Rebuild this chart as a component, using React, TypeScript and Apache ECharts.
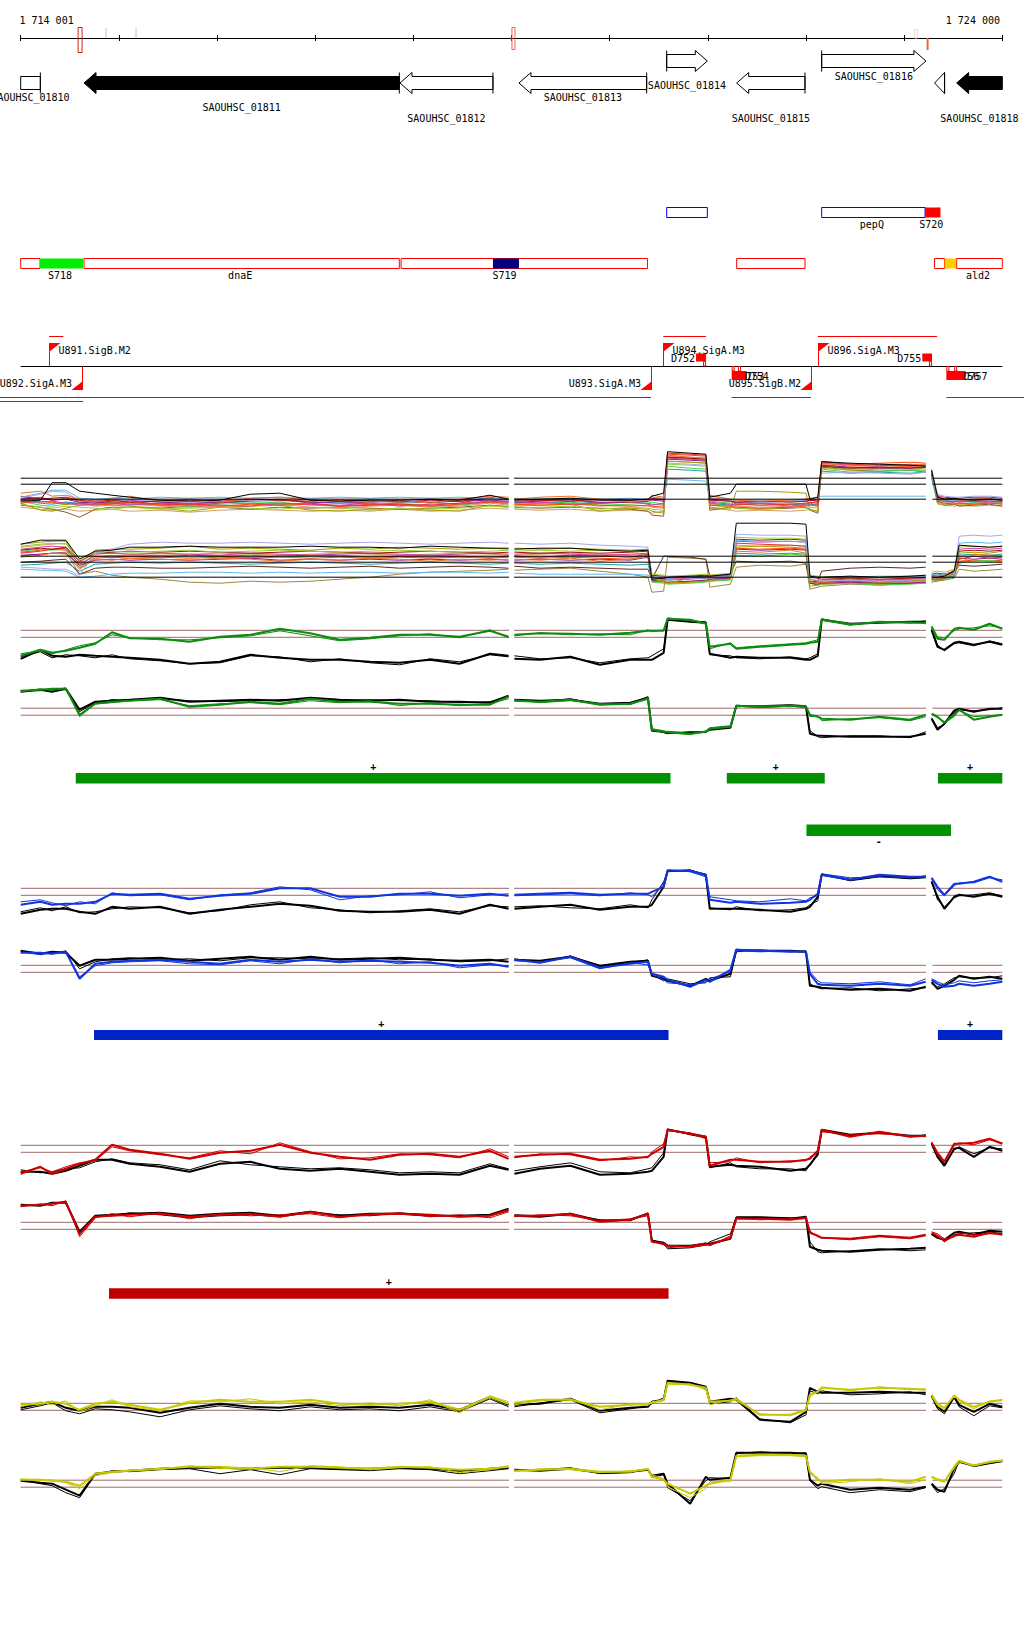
import React, { useEffect, useRef } from "react";
import * as echarts from "echarts";

// ---------- axis ----------
const X_MIN = 1714000;
const X_MAX = 1724000;
const TICK_INTERVAL = 1000;
const TICK_LABELS = ["1 714 001", "1 724 000"];

// ---------- sample positions (bp) for the three contiguous segments ----------
const POS_A = [1714000, 1714200, 1714320, 1714460, 1714600, 1714760, 1714930, 1715110, 1715420, 1715720, 1716030, 1716340, 1716640, 1716950, 1717250, 1717560, 1717860, 1718170, 1718470, 1718780, 1718970];
const POS_B = [1719030, 1719290, 1719600, 1719900, 1720210, 1720390, 1720430, 1720550, 1720590, 1720820, 1720980, 1721020, 1721230, 1721290, 1721530, 1721840, 1722000, 1722040, 1722120, 1722160, 1722450, 1722750, 1723060, 1723220];
const POS_C = [1723280, 1723340, 1723410, 1723510, 1723560, 1723710, 1723870, 1724000];
const SEG_BOUNDS = [[1714000, 1718975], [1719026, 1723223], [1723288, 1724000]];

// ---------- genes ----------
const GENE_NAMES = ["SAOUHSC_01810", "SAOUHSC_01811", "SAOUHSC_01812", "SAOUHSC_01813", "SAOUHSC_01814", "SAOUHSC_01815", "SAOUHSC_01816", "SAOUHSC_01817", "SAOUHSC_01818"];
const GENE_START = [1713700, 1714645, 1717864, 1719076, 1720581, 1721294, 1722160, 1723310, 1723535];
const GENE_END = [1714200, 1717857, 1718811, 1720377, 1720995, 1721990, 1723222, 1723412, 1724400];
const GENE_STRAND = [-1, -1, -1, -1, 1, -1, 1, -1, -1];
const GENE_FILLED = [0, 1, 0, 0, 0, 0, 0, 0, 1];
const GENE_LABEL_LEVEL = [2, 3, 4, 2, 1, 4, 0, -1, 4];

// ---------- features ----------
const FEAT_START = [1720581, 1722160, 1723213, 1713900, 1714197, 1714645, 1717875, 1718811, 1721294, 1723310, 1723412, 1723535];
const FEAT_END = [1720995, 1723213, 1723370, 1714197, 1714635, 1717857, 1720385, 1719076, 1721990, 1723412, 1723530, 1724300];
const FEAT_ROW = [0, 0, 0, 1, 1, 1, 1, 1, 1, 1, 1, 1];
const FEAT_FILL = ["", "", "#ff0000", "", "#00ee00", "", "", "#000080", "", "", "#ffcc00", ""];
const FEAT_LABEL = ["", "pepQ", "S720", "", "S718", "dnaE", "", "S719", "", "", "", "ald2"];

// ---------- axis marks ----------
const MARK_POS = [1714605, 1714870, 1715176, 1719020, 1723120, 1723239];
const MARK_KIND = [0, 1, 1, 2, 3, 4];

// ---------- promoters / terminators / transcripts ----------
const PROM_NAMES = ["U891.SigB.M2", "U892.SigA.M3", "U893.SigA.M3", "U894.SigA.M3", "U895.SigB.M2", "U896.SigA.M3"];
const PROM_POS = [1714289, 1714628, 1720421, 1720546, 1722051, 1722120];
const PROM_STRAND = [1, -1, -1, 1, -1, 1];
const TERM_NAMES = ["D752", "D753", "D754", "D755", "D756", "D757"];
const TERM_START = [1720880, 1721243, 1721307, 1723185, 1723430, 1723510];
const TERM_END = [1720982, 1721350, 1721396, 1723284, 1723540, 1723624];
const TERM_STRAND = [1, -1, -1, 1, -1, -1];
const TX_START = [1714289, 1720546, 1722120, 1713789, 1721243, 1723430, 1713789];
const TX_END = [1714435, 1720982, 1723336, 1720421, 1722051, 1724250, 1714635];
const TX_ROW = [0, 0, 0, 1, 1, 1, 2];

// ---------- strand bars ----------
const GREEN_BAR_START = [1714561, 1721193, 1723344, 1722005];
const GREEN_BAR_END = [1720620, 1722191, 1724000, 1723477];
const GREEN_BAR_STRAND = [1, 1, 1, -1];
const BLUE_BAR_START = [1714747, 1723344];
const BLUE_BAR_END = [1720600, 1724000];
const BLUE_BAR_STRAND = [1, 1];
const RED_BAR_START = [1714900];
const RED_BAR_END = [1720600];
const RED_BAR_STRAND = [1];

// ---------- multi-sample track 1 (A | B | C) ----------
const M1_BLACK = [-2.0,-1.9,-0.15,-0.15,-1.0,-1.2,-1.4,-1.6,-1.9,-2.0,-1.9,-1.3,-1.2,-1.9,-2.0,-1.9,-1.9,-1.8,-1.9,-1.4,-1.8, -1.9,-1.8,-1.7,-1.9,-1.9,-1.8,-1.5,-1.2,2.95,2.8,2.7,-1.6,-1.2,-0.3,-0.3,-0.3,-0.3,-1.8,-1.6,1.95,1.8,1.7,1.6,1.5, 1.1,-1.6,-1.8,-1.7,-1.8,-1.9,-1.8,-1.9];
const M1_RED = [-1.8,-1.6,-1.9,-1.7,-2.0,-2.1,-2.2,-2.0,-2.3,-2.4,-2.2,-1.9,-1.8,-2.2,-2.5,-2.4,-2.3,-2.4,-2.2,-1.6,-1.9, -2.0,-1.9,-1.8,-2.2,-2.1,-2.0,-1.6,-1.8,2.8,2.7,2.6,-1.7,-1.9,-2.3,-2.4,-2.3,-2.2,-2.1,-2.2,1.9,1.7,1.6,1.5,1.6, 1.0,-1.5,-1.9,-2.0,-2.1,-2.0,-1.9,-2.1];
const M1_ORANGE = [-1.2,-1.0,-1.5,-1.4,-1.8,-2.1,-1.7,-1.5,-2.0,-1.8,-2.1,-1.7,-1.6,-1.9,-2.0,-2.1,-1.9,-2.2,-1.8,-1.5,-1.6, -1.8,-1.6,-1.5,-1.8,-2.1,-1.9,-1.4,-1.6,2.6,2.4,2.3,-1.4,-1.8,-1.9,-2.0,-1.9,-1.8,-1.7,-1.9,1.8,1.5,1.7,1.6,1.7, 0.9,-1.4,-1.7,-1.8,-1.9,-1.8,-1.7,-1.9];
const M1_OLIVE = [-2.2,-2.9,-3.0,-2.7,-2.4,-2.3,-2.4,-2.5,-2.7,-3.0,-2.6,-2.5,-2.4,-2.9,-3.0,-2.8,-2.7,-2.9,-3.0,-2.4,-2.5, -2.5,-2.4,-2.3,-3.0,-2.7,-2.8,-3.0,-3.2,2.0,1.9,1.8,-2.6,-2.8,-1.0,-1.0,-1.1,-1.2,-2.9,-3.0,1.5,1.2,1.3,1.4,1.2, 0.8,-2.0,-2.3,-2.2,-2.4,-2.3,-2.1,-2.3];
const M1_GREEN = [-2.0,-2.4,-2.5,-2.3,-2.2,-2.3,-2.1,-2.2,-2.4,-2.5,-2.3,-2.2,-2.1,-2.4,-2.5,-2.4,-2.3,-2.5,-2.4,-2.1,-2.3, -2.3,-2.2,-2.1,-2.4,-2.3,-2.2,-2.1,-2.3,1.5,1.3,1.2,-2.0,-2.2,-2.2,-2.4,-2.3,-2.2,-2.1,-2.2,1.2,0.9,1.0,1.1,1.0, 0.5,-1.6,-1.8,-1.9,-2.0,-1.9,-1.8,-2.0];
const M1_PURPLE = [-1.8,-1.7,-1.9,-1.8,-2.1,-2.2,-2.0,-1.9,-2.1,-2.2,-2.1,-2.0,-1.9,-2.1,-2.2,-2.1,-2.0,-2.1,-2.0,-1.9,-2.0, -2.1,-2.0,-1.9,-2.1,-2.1,-2.0,-1.9,-2.0,2.2,2.1,2.0,-1.8,-2.0,-2.1,-2.1,-2.0,-2.0,-1.9,-2.0,1.6,1.4,1.3,1.3,1.4, 0.8,-1.5,-1.6,-1.7,-1.7,-1.6,-1.6,-1.7];
const M1_LIGHTBLUE = [-1.6,-1.2,-0.9,-0.9,-1.7,-1.8,-1.7,-1.8,-1.6,-1.7,-1.6,-1.7,-1.6,-1.7,-1.6,-1.7,-1.6,-1.7,-1.6,-1.7,-1.8, -1.7,-1.8,-1.7,-1.8,-1.7,-1.8,-1.6,-1.7,0.2,0.1,0.0,-1.5,-1.8,-1.9,-1.9,-1.9,-1.8,-1.7,-1.6,-1.5,-1.5,-1.5,-1.5,-1.5, 0.5,-1.8,-1.9,-1.9,-1.9,-1.8,-1.9,-1.9];
const M1_LAVENDER = [-1.7,-1.3,-1.0,-1.1,-2.0,-1.9,-1.8,-2.0,-1.9,-2.1,-1.8,-1.9,-2.0,-1.8,-2.1,-1.9,-2.0,-1.8,-1.9,-1.7,-1.9, -1.9,-1.8,-2.0,-1.9,-2.0,-1.9,-1.8,-1.9,1.8,1.7,1.6,-1.7,-1.9,-2.0,-2.1,-2.0,-1.9,-1.8,-1.9,0.8,0.9,0.8,0.7,0.9, 1.2,-1.3,-1.5,-1.6,-1.6,-1.5,-1.5,-1.6];
const M1_BROWN = [-2.4,-2.6,-2.8,-3.1,-3.6,-2.8,-2.6,-2.6,-2.7,-2.5,-2.6,-2.8,-2.6,-2.7,-2.6,-2.7,-2.8,-2.7,-2.6,-2.4,-2.6, -2.6,-2.7,-2.6,-2.7,-2.8,-3.0,-3.4,-3.5,2.4,2.3,2.2,-2.9,-2.6,-2.7,-2.8,-2.7,-2.6,-2.9,-3.2,1.4,1.1,1.0,1.1,0.9, 0.6,-2.1,-2.4,-2.3,-2.5,-2.4,-2.3,-2.5];
const M1_SALMON = [-2.1,-2.0,-2.2,-2.1,-2.3,-2.5,-2.4,-2.3,-2.5,-2.6,-2.5,-2.4,-2.3,-2.6,-2.7,-2.5,-2.4,-2.6,-2.5,-2.2,-2.4, -2.4,-2.3,-2.2,-2.5,-2.4,-2.5,-2.6,-2.7,2.5,2.4,2.3,-2.3,-2.4,-2.5,-2.6,-2.5,-2.4,-2.3,-2.4,1.7,1.4,1.5,1.6,1.5, 0.9,-1.9,-2.1,-2.2,-2.3,-2.2,-2.1,-2.2];
const M1_MAGENTA = [-1.9,-2.1,-2.0,-2.2,-2.4,-2.3,-2.2,-2.4,-2.2,-2.3,-2.4,-2.5,-2.2,-2.3,-2.4,-2.2,-2.5,-2.3,-2.2,-2.0,-2.1, -2.2,-2.1,-2.3,-2.2,-2.0,-2.3,-2.4,-2.2,2.3,2.2,2.1,-2.1,-2.3,-2.4,-2.2,-2.5,-2.3,-2.2,-2.4,1.8,1.6,1.5,1.7,1.6, 0.7,-1.7,-2.0,-2.1,-1.9,-2.0,-2.1,-2.0];
const M1_DARKRED = [-1.5,-1.8,-1.7,-1.6,-1.9,-2.0,-1.9,-2.1,-2.0,-1.9,-2.0,-1.8,-1.9,-2.0,-1.9,-2.0,-2.1,-1.9,-2.0,-1.7,-1.8, -1.8,-1.9,-2.0,-1.8,-1.9,-1.8,-1.7,-1.9,2.4,2.3,2.2,-1.9,-2.0,-2.1,-2.0,-2.1,-2.0,-1.9,-2.0,1.5,1.3,1.4,1.3,1.4, 0.7,-1.8,-1.9,-1.8,-1.9,-1.8,-1.8,-1.9];
const M1_YELLOWGREEN = [-2.3,-2.6,-2.7,-2.5,-2.6,-2.7,-2.8,-2.6,-2.8,-2.7,-2.6,-2.7,-2.8,-2.6,-2.7,-2.9,-2.7,-2.8,-2.7,-2.5,-2.6, -2.7,-2.6,-2.5,-2.8,-2.6,-2.7,-2.8,-2.9,1.7,1.6,1.5,-2.4,-2.6,-2.7,-2.8,-2.6,-2.7,-2.6,-2.7,1.3,1.1,1.2,1.2,1.1, 0.4,-2.2,-2.3,-2.2,-2.3,-2.2,-2.1,-2.2];
const M1_TEAL = [-1.9,-2.2,-2.3,-2.1,-2.2,-2.0,-2.1,-2.3,-2.2,-2.3,-2.1,-2.2,-2.3,-2.2,-2.1,-2.3,-2.2,-2.1,-2.3,-2.0,-2.1, -2.1,-2.2,-2.0,-2.2,-2.1,-2.2,-2.3,-2.4,1.2,1.1,1.0,-2.2,-2.4,-2.3,-2.2,-2.3,-2.4,-2.3,-2.4,1.0,0.8,0.9,0.8,0.9, 0.3,-1.9,-2.0,-2.1,-2.0,-2.1,-2.0,-2.1];
const M1_TAN = [-2.6,-2.8,-2.9,-2.8,-3.0,-2.9,-2.8,-3.0,-2.9,-3.1,-2.9,-2.8,-2.9,-3.0,-2.9,-3.0,-2.8,-3.0,-2.9,-2.7,-2.8, -2.8,-2.9,-2.8,-3.0,-2.9,-3.0,-3.2,-3.0,2.0,1.9,1.8,-2.7,-2.9,-3.0,-2.9,-3.0,-2.9,-2.8,-3.0,1.6,1.3,1.4,1.5,1.4, 0.6,-2.3,-2.4,-2.5,-2.4,-2.5,-2.4,-2.5];
const M1_ORANGERED = [-2.2,-2.0,-2.1,-2.3,-2.2,-2.4,-2.3,-2.1,-2.4,-2.3,-2.5,-2.3,-2.4,-2.3,-2.5,-2.3,-2.4,-2.5,-2.3,-2.1,-2.2, -2.3,-2.4,-2.3,-2.4,-2.5,-2.4,-2.5,-2.6,2.7,2.6,2.5,-2.4,-2.5,-2.6,-2.7,-2.6,-2.5,-2.4,-2.5,2.0,1.7,1.8,1.9,1.8, 1.0,-2.0,-2.2,-2.3,-2.2,-2.3,-2.2,-2.3];

// ---------- multi-sample track 2 ----------
const M2_BLACK = [1.5,1.9,1.9,1.9,0.0,0.8,0.9,1.2,1.2,1.3,1.2,1.2,1.2,1.3,1.2,1.2,1.1,1.3,1.2,1.1,1.1, 1.0,1.1,1.1,0.9,0.8,0.9,-2.0,-1.9,-1.8,-1.7,-1.7,-1.7,-1.5,3.6,3.6,3.6,3.5,-1.7,-1.8,-1.8,-1.7,-1.8,-1.7,-1.6, -1.8,-1.8,-1.7,-1.2,1.4,1.3,1.2,1.3];
const M2_RED = [0.6,0.8,1.0,1.1,-0.5,0.3,0.2,0.3,0.2,0.4,0.3,0.2,0.3,0.4,0.3,0.2,0.3,0.2,0.3,0.2,0.3, 0.3,0.2,0.4,0.3,0.2,0.5,-1.9,-2.0,-1.9,-1.8,-1.9,-1.8,-1.6,1.6,1.5,1.4,1.3,-2.2,-2.4,-2.3,-2.2,-2.3,-2.1,-2.0, -2.0,-2.1,-1.9,-1.5,0.0,0.3,0.1,0.2];
const M2_ORANGE = [0.2,0.4,0.6,0.5,-1.0,0.0,-0.1,0.1,0.0,-0.1,0.1,0.0,-0.2,0.0,-0.1,0.1,0.0,-0.2,0.0,-0.1,0.0, 0.0,-0.1,0.1,-0.2,0.0,0.3,-1.8,-2.0,-2.4,-1.9,-1.8,-1.6,-1.5,0.8,0.7,0.9,0.6,-2.0,-2.2,-2.3,-2.2,-2.1,-2.0,-1.9, -1.7,-1.6,-1.8,-1.0,-0.5,0.5,0.4,0.3];
const M2_OLIVE = [1.5,1.7,1.8,1.8,-0.3,0.9,1.0,1.0,1.1,1.3,1.0,1.1,1.0,0.9,1.1,1.0,1.2,1.1,1.0,1.1,1.0, 1.1,1.0,1.1,1.0,0.9,1.0,-2.0,-2.2,-2.4,-2.3,-2.2,-2.1,-2.0,1.2,1.3,1.2,1.1,-2.3,-2.4,-2.2,-2.1,-2.3,-2.2,-2.1, -2.1,-2.0,-1.8,-1.4,0.6,0.7,0.6,0.8];
const M2_GREEN = [0.8,1.0,0.9,1.0,-0.8,0.2,0.4,0.3,0.4,0.2,0.3,0.4,0.2,0.3,0.4,0.2,0.3,0.4,0.3,0.2,0.3, 0.3,0.2,0.3,0.4,0.2,0.3,-2.3,-2.4,-2.5,-2.4,-2.3,-2.2,-2.1,0.4,0.3,0.5,0.4,-2.7,-2.6,-2.5,-2.4,-2.6,-2.5,-2.4, -2.2,-2.1,-2.0,-1.8,-0.3,-0.2,-0.1,-0.3];
const M2_PURPLE = [0.4,0.5,0.6,0.6,-0.6,-0.1,0.0,-0.1,0.0,-0.1,0.0,0.1,-0.1,0.0,-0.1,0.0,-0.1,0.0,-0.1,0.0,-0.1, -0.1,0.0,-0.1,0.0,-0.1,0.2,-2.1,-2.2,-2.3,-2.2,-2.1,-2.0,-1.9,1.0,0.9,1.0,0.9,-2.4,-2.5,-2.4,-2.3,-2.4,-2.4,-2.3, -2.0,-2.0,-1.9,-1.6,0.1,0.0,0.1,0.0];
const M2_LIGHTBLUE = [-1.0,-1.1,-1.1,-1.2,-1.8,-1.7,-1.5,-1.4,-1.4,-1.3,-1.3,-1.4,-1.3,-1.4,-1.3,-1.3,-1.4,-1.3,-1.3,-1.4,-1.3, -1.4,-1.5,-1.5,-1.5,-1.5,-1.6,-1.8,-1.8,-1.9,-1.7,-1.8,-1.7,-1.5,1.9,1.8,1.8,1.7,-1.9,-1.8,-1.8,-1.8,-1.7,-1.7,-1.7, -1.5,-1.6,-1.5,-1.3,1.6,1.7,1.6,1.7];
const M2_LAVENDER = [-0.8,-0.9,-1.0,-1.0,-1.6,0.6,1.0,1.5,1.7,1.6,1.6,1.7,1.6,1.5,1.6,1.7,1.6,1.5,1.6,1.7,1.6, 1.6,1.5,1.6,1.4,1.3,1.2,-1.9,-1.8,-1.7,-1.9,-2.0,-1.8,-1.7,2.5,2.4,2.4,2.3,-2.0,-2.1,-2.2,-2.1,-2.2,-2.1,-2.0, -1.8,-1.7,-1.8,-1.6,2.3,2.4,2.3,2.4];
const M2_DARKBROWN = [-0.3,-0.2,-0.1,0.0,-1.5,-0.9,-0.8,-0.8,-0.9,-0.9,-0.8,-0.7,-0.8,-0.9,-0.8,-0.7,-0.9,-0.8,-0.7,-0.8,-0.9, -0.7,-0.9,-0.8,-0.9,-1.0,-1.0,-2.0,0.3,0.3,0.2,0.0,-1.7,-1.5,-0.2,-0.3,-0.2,-0.4,-2.3,-2.2,-1.2,-0.9,-0.8,-0.9,-0.8, -1.7,-1.6,-1.5,-1.4,-0.6,-0.7,-0.6,-0.5];
const M2_KHAKI = [0.3,0.5,0.6,0.7,-1.5,-1.2,-1.6,-1.8,-2.0,-2.3,-2.4,-2.2,-2.3,-2.2,-2.0,-1.8,-1.5,-1.3,-1.2,-1.1,-1.0, -1.1,-1.0,-0.9,-1.2,-1.5,-1.8,-3.3,-3.2,0.2,0.1,0.0,-2.8,-2.5,-0.8,-0.6,-0.7,-0.5,-3.0,-2.8,-2.7,-2.5,-2.6,-2.4,-2.4, -2.3,-2.2,-2.1,-1.9,-1.0,-1.2,-1.1,-1.0];
const M2_MAGENTA = [1.0,1.2,1.3,1.2,-0.6,0.5,0.6,0.5,0.6,0.5,0.4,0.6,0.5,0.4,0.5,0.6,0.5,0.4,0.5,0.6,0.5, 0.5,0.6,0.5,0.4,0.5,0.6,-1.8,-1.9,-2.0,-1.9,-1.8,-1.9,-1.7,1.8,1.7,1.8,1.7,-2.0,-2.2,-2.1,-2.0,-2.1,-2.0,-1.9, -1.6,-1.7,-1.6,-1.4,1.0,1.1,1.0,1.1];
const M2_DARKRED = [0.9,1.1,1.0,1.2,-0.2,0.6,0.7,0.8,0.7,0.8,0.7,0.6,0.7,0.8,0.7,0.6,0.7,0.8,0.7,0.6,0.7, 0.7,0.6,0.7,0.6,0.7,0.8,-1.6,-1.7,-1.8,-1.7,-1.6,-1.7,-1.5,2.0,1.9,2.0,1.9,-1.8,-1.9,-2.0,-1.9,-2.0,-1.9,-1.8, -1.5,-1.4,-1.5,-1.2,0.8,0.9,0.8,0.9];
const M2_YELLOWGREEN = [1.3,1.5,1.6,1.5,0.2,0.6,0.8,0.7,0.8,0.9,0.7,0.8,0.9,0.8,0.7,0.8,0.9,0.8,0.7,0.8,0.9, 0.8,0.9,0.8,0.9,0.8,0.9,-1.5,-1.6,-1.7,-1.6,-1.5,-1.6,-1.4,2.2,2.1,2.1,2.0,-1.6,-1.7,-1.8,-1.7,-1.8,-1.7,-1.6, -1.3,-1.2,-1.3,-1.0,1.2,1.3,1.2,1.3];
const M2_TEAL = [-0.6,-0.5,-0.4,-0.3,-1.2,-0.5,-0.4,-0.3,-0.4,-0.3,-0.4,-0.5,-0.4,-0.3,-0.4,-0.5,-0.4,-0.3,-0.4,-0.5,-0.4, -0.4,-0.5,-0.4,-0.5,-0.6,-0.5,-1.9,-2.0,-2.1,-2.0,-1.9,-2.0,-1.8,0.6,0.5,0.6,0.5,-2.3,-2.4,-2.3,-2.2,-2.3,-2.2,-2.1, -1.9,-1.8,-1.9,-1.7,0.4,0.5,0.4,0.5];
const M2_TAN = [1.2,1.4,1.5,1.6,-0.4,0.7,0.6,0.5,0.4,0.5,0.6,0.5,0.4,0.5,0.6,0.5,0.4,0.5,0.6,0.5,0.4, 0.4,0.5,0.6,0.5,0.4,0.5,-2.1,-2.2,-2.3,-2.2,-2.1,-2.2,-2.0,1.4,1.3,1.4,1.3,-2.4,-2.5,-2.4,-2.3,-2.4,-2.3,-2.2, -2.0,-1.9,-2.0,-1.7,0.2,0.3,0.2,0.3];
const M2_ORANGERED = [0.7,0.9,1.0,0.9,-0.9,0.1,0.2,0.1,0.2,0.1,0.2,0.1,0.2,0.1,0.2,0.1,0.2,0.1,0.2,0.1,0.2, 0.2,0.1,0.2,0.1,0.0,0.4,-2.2,-2.3,-2.4,-2.3,-2.2,-2.1,-1.9,1.1,1.0,1.1,1.0,-2.4,-2.6,-2.5,-2.4,-2.5,-2.4,-2.3, -1.8,-1.9,-1.8,-1.6,-0.2,-0.1,-0.2,-0.1];

// ---------- green tracks ----------
const G1_SAMPLE = [-2.2,-1.6,-1.9,-1.7,-1.4,-1.0,0.15,-0.45,-0.5,-0.8,-0.3,-0.1,0.5,0.05,-0.6,-0.4,-0.1,-0.1,-0.3,0.3,-0.3, -0.1,0.05,0.0,-0.1,0.1,0.3,0.3,0.3,1.5,1.4,1.0,-1.3,-1.0,-1.5,-1.3,-1.1,-1.0,-0.9,-0.8,1.4,0.9,1.2,1.1,1.1, 0.7,-0.5,-0.6,0.5,0.6,0.4,1.0,0.5];
const G1_SAMPLE_REP = [-2.0,-1.7,-2.0,-1.6,-1.2,-0.9,-0.1,-0.4,-0.6,-0.6,-0.4,-0.2,0.3,-0.2,-0.7,-0.5,-0.2,0.0,-0.4,0.4,-0.4, -0.2,0.1,-0.1,0.0,-0.1,0.4,0.2,0.4,1.6,1.3,1.1,-1.5,-0.9,-1.4,-1.2,-1.0,-0.9,-0.8,-0.6,1.5,1.0,1.1,1.2,1.0, 0.8,-0.3,-0.4,0.3,0.5,0.6,0.8,0.6];
const G1_REF = [-2.5,-1.6,-2.2,-2.3,-2.1,-2.2,-2.3,-2.4,-2.6,-3.0,-2.8,-2.1,-2.4,-2.6,-2.6,-2.8,-2.9,-2.6,-3.0,-2.0,-2.2, -2.5,-2.6,-2.3,-3.1,-2.6,-2.6,-2.6,-1.9,1.4,1.2,1.1,-2.0,-2.4,-2.3,-2.4,-2.4,-2.6,-2.6,-2.2,1.4,1.0,1.1,1.2,1.2, 0.4,-1.3,-1.6,-0.9,-0.8,-1.1,-0.8,-1.1];
const G1_REF_REP = [-2.3,-1.8,-2.4,-2.1,-2.2,-2.4,-2.1,-2.5,-2.7,-3.0,-2.9,-2.2,-2.3,-2.8,-2.5,-2.9,-3.1,-2.5,-2.8,-2.1,-2.3, -2.2,-2.5,-2.4,-2.9,-2.5,-2.4,-2.2,-1.5,1.5,1.3,1.2,-2.1,-2.2,-2.4,-2.5,-2.3,-2.5,-2.4,-2.0,1.5,0.9,1.2,1.1,1.3, 0.5,-1.1,-1.7,-1.0,-0.9,-1.2,-0.7,-1.0];
const G2_SAMPLE = [2.1,2.2,2.3,2.3,-0.3,0.8,1.0,1.1,1.3,0.5,0.7,1.0,0.8,1.3,1.0,1.0,0.8,0.8,0.7,0.7,1.5, 1.1,1.0,1.2,0.7,0.8,1.3,-1.8,-2.0,-2.0,-2.2,-2.0,-1.7,-1.5,0.6,0.5,0.6,0.5,-0.3,-0.5,-0.7,-0.8,-0.5,-0.8,-0.3, -0.2,-0.5,-1.1,-0.4,0.2,-0.8,-0.5,-0.3];
const G2_SAMPLE_REP = [2.0,2.3,2.1,2.4,-0.5,0.8,0.9,1.1,1.2,0.6,0.8,0.9,0.7,1.1,0.9,1.1,0.6,0.9,0.6,0.8,1.3, 1.2,0.9,1.1,0.8,0.7,1.4,-1.7,-1.9,-2.1,-2.3,-1.9,-1.6,-1.4,0.5,0.6,0.5,0.6,-0.5,-0.4,-0.9,-0.7,-0.6,-0.9,-0.5, -0.3,-0.6,-1.0,-0.2,0.1,-0.5,-0.4,-0.3];
const G2_REF = [2.0,2.2,2.0,2.3,0.2,1.0,1.1,1.2,1.4,1.0,1.1,1.2,1.1,1.4,1.2,1.1,1.2,1.0,1.0,0.9,1.6, 1.2,1.1,1.2,0.8,0.9,1.4,-1.9,-2.0,-2.1,-2.1,-2.0,-1.8,-1.6,0.6,0.5,0.6,0.5,-2.2,-2.4,-2.4,-2.5,-2.5,-2.5,-2.2, -0.7,-1.8,-1.2,0.1,0.3,0.0,0.3,0.3];
const G2_REF_REP = [2.1,2.1,2.2,2.2,0.0,0.9,1.2,1.1,1.3,1.1,1.0,1.1,1.2,1.3,1.1,1.2,1.1,1.1,0.9,1.0,1.5, 1.1,1.0,1.3,0.7,0.8,1.5,-1.8,-2.1,-2.2,-2.0,-2.1,-1.7,-1.5,0.5,0.6,0.7,0.6,-1.9,-2.5,-2.6,-2.4,-2.4,-2.6,-2.0, -0.6,-1.6,-1.3,-0.1,0.2,0.1,0.2,0.4];

// ---------- blue tracks ----------
const B1_SAMPLE = [-1.3,-1.0,-1.3,-1.2,-1.2,-1.0,-0.2,-0.3,-0.2,-0.7,-0.4,-0.2,0.35,0.35,-0.5,-0.5,-0.2,-0.2,-0.4,-0.2,-0.4, -0.3,-0.2,-0.1,-0.3,-0.2,-0.2,0.0,0.5,2.1,2.1,1.7,-0.8,-1.1,-1.0,-1.2,-1.1,-1.0,-0.8,-0.2,1.7,1.2,1.7,1.5,1.5, 1.4,0.5,-0.3,0.8,0.8,1.0,1.5,1.0];
const B1_SAMPLE_REP = [-1.0,-0.8,-1.1,-1.4,-1.0,-1.2,-0.1,-0.4,-0.3,-0.8,-0.3,-0.1,0.5,0.2,-0.8,-0.4,-0.3,0.0,-0.6,-0.3,-0.2, -0.4,-0.3,-0.2,-0.4,-0.1,-0.3,-0.5,0.8,2.2,2.0,1.5,-0.5,-0.8,-0.9,-1.0,-0.7,-0.9,-0.6,-0.4,1.8,1.4,1.5,1.4,1.6, 1.3,0.2,-0.4,0.6,0.9,0.9,1.4,1.2];
const B1_REF = [-2.2,-1.8,-1.7,-1.7,-2.0,-2.2,-1.5,-1.7,-1.5,-2.2,-1.8,-1.5,-1.2,-1.4,-1.9,-2.0,-2.0,-1.8,-2.2,-1.3,-1.7, -1.7,-1.5,-1.3,-1.8,-1.5,-1.5,-1.3,0.5,2.1,2.1,1.7,-1.7,-1.7,-1.7,-1.8,-2.0,-1.7,-1.5,-0.5,1.7,1.2,1.6,1.4,1.5, 1.0,-0.5,-1.7,-0.5,-0.3,-0.5,-0.2,-0.5];
const B1_REF_REP = [-2.0,-1.6,-1.9,-1.5,-2.1,-2.0,-1.7,-1.5,-1.6,-2.1,-1.9,-1.3,-1.0,-1.6,-1.8,-2.1,-1.9,-1.7,-2.0,-1.4,-1.5, -1.5,-1.4,-1.6,-1.7,-1.3,-1.6,-0.8,1.0,2.0,2.2,1.6,-1.6,-1.8,-1.5,-1.9,-1.8,-1.6,-1.3,-0.9,1.8,1.1,1.5,1.3,1.4, 1.1,-0.8,-1.5,-0.6,-0.4,-0.3,-0.1,-0.4];
const B2_SAMPLE = [1.6,1.6,1.5,1.7,-1.0,0.5,0.7,0.8,0.9,0.7,0.5,0.9,0.7,0.9,0.7,0.8,0.7,0.6,0.3,0.5,0.2, 0.9,0.6,1.2,0.1,0.5,0.7,-0.5,-0.8,-1.1,-1.8,-1.1,-1.3,-0.1,1.9,1.8,1.7,1.7,-0.5,-1.5,-1.6,-1.7,-1.5,-1.7,-1.3, -1.1,-1.5,-1.8,-1.7,-1.5,-1.7,-1.5,-1.3];
const B2_SAMPLE_REP = [1.7,1.4,1.6,1.6,-0.8,0.3,0.6,0.7,0.8,0.5,0.4,0.8,0.5,1.0,0.6,0.9,0.5,0.7,0.1,0.4,0.3, 0.8,0.7,1.1,0.0,0.6,0.4,-0.6,-1.1,-1.4,-1.6,-1.3,-1.0,-0.3,1.8,1.7,1.8,1.6,-0.3,-1.2,-1.4,-1.5,-1.3,-1.6,-1.0, -1.0,-1.3,-1.6,-1.4,-1.2,-1.4,-1.2,-1.1];
const B2_REF = [1.8,1.5,1.7,1.6,0.3,0.9,0.9,1.0,1.1,0.8,1.0,1.2,0.9,1.2,0.9,1.0,1.1,0.9,0.8,0.9,0.7, 0.9,0.8,1.2,0.3,0.7,0.8,-0.7,-1.0,-1.2,-1.7,-1.0,-1.2,-0.5,1.9,1.8,1.8,1.7,-1.7,-1.8,-1.9,-2.1,-2.0,-2.2,-1.8, -1.3,-2.0,-1.7,-1.1,-0.7,-1.0,-0.8,-1.0];
const B2_REF_REP = [1.7,1.6,1.5,1.8,0.0,0.7,1.0,1.1,0.9,1.0,0.8,1.1,1.1,1.0,1.0,1.1,0.9,1.0,0.7,0.8,1.0, 1.0,0.6,1.3,0.2,0.6,0.9,-0.6,-1.2,-1.0,-1.5,-1.4,-0.9,-0.8,1.7,1.9,1.7,1.8,-1.5,-1.9,-2.0,-1.9,-2.2,-2.0,-1.9, -1.5,-1.8,-1.5,-0.9,-0.8,-0.9,-0.9,-0.7];

// ---------- red tracks ----------
const R1_SAMPLE = [-2.5,-1.8,-2.5,-2.0,-1.5,-1.1,0.4,-0.1,-0.5,-1.0,-0.4,-0.2,0.4,-0.4,-0.8,-1.1,-0.6,-0.5,-0.8,-0.2,-1.0, -0.8,-0.6,-0.5,-1.1,-1.0,-0.8,-0.5,0.2,1.9,1.5,1.2,-1.7,-1.1,-1.1,-1.3,-1.3,-1.1,-1.0,-0.2,1.9,1.2,1.7,1.2,1.3, 0.6,-0.5,-1.3,0.5,0.5,0.6,1.0,0.5];
const R1_SAMPLE_REP = [-2.3,-1.9,-2.3,-1.8,-1.4,-1.2,0.2,-0.2,-0.6,-0.9,-0.2,-0.5,0.6,-0.3,-1.0,-0.9,-0.5,-0.6,-0.9,0.0,-0.8, -0.9,-0.5,-0.6,-1.2,-0.8,-0.9,-0.3,0.5,1.8,1.6,1.0,-1.4,-1.3,-0.9,-1.4,-1.2,-1.2,-0.8,-0.4,1.7,1.4,1.5,1.3,1.2, 0.7,-0.3,-1.2,0.3,0.6,0.4,0.9,0.6];
const R1_REF = [-2.3,-2.3,-2.5,-2.2,-1.7,-1.1,-1.1,-1.5,-1.8,-2.3,-1.5,-1.3,-2.0,-2.2,-2.0,-2.3,-2.6,-2.5,-2.6,-1.7,-2.1, -2.5,-2.0,-1.7,-2.6,-2.5,-2.3,-2.2,-0.8,1.9,1.5,1.2,-1.8,-1.6,-1.7,-1.8,-2.2,-2.0,-1.6,-0.5,1.9,1.4,1.6,1.3,1.3, 0.5,-0.8,-1.7,0.0,0.1,-0.8,0.2,-0.2];
const R1_REF_REP = [-2.1,-2.4,-2.3,-2.0,-1.9,-1.3,-1.0,-1.4,-1.6,-2.1,-1.2,-1.6,-1.8,-2.0,-1.9,-2.1,-2.4,-2.3,-2.4,-1.5,-2.0, -2.2,-1.8,-1.4,-2.3,-2.4,-2.0,-1.9,-0.4,2.0,1.4,1.1,-1.9,-1.4,-1.8,-2.0,-2.0,-2.2,-1.5,-0.7,1.8,1.3,1.7,1.2,1.4, 0.6,-0.6,-1.5,-0.1,0.2,-0.5,0.1,0.0];
const R2_SAMPLE = [2.0,2.1,2.2,2.4,-0.8,0.9,1.0,1.1,1.2,0.9,1.1,1.2,0.9,1.4,0.9,1.1,1.2,1.1,0.9,1.0,1.6, 1.0,1.0,1.2,0.4,0.6,1.2,-1.6,-1.8,-2.0,-2.1,-1.9,-1.9,-1.2,0.7,0.7,0.6,0.8,-0.7,-1.0,-1.2,-1.3,-1.0,-1.2,-0.9, -0.7,-1.0,-1.5,-1.0,-0.9,-1.1,-0.7,-0.9];
const R2_SAMPLE_REP = [1.9,2.2,2.0,2.5,-1.1,0.8,1.2,0.9,1.3,0.7,1.2,1.0,1.1,1.2,0.8,1.2,1.3,0.9,1.1,0.8,1.4, 0.9,1.1,1.0,0.5,0.7,1.0,-1.5,-1.9,-2.2,-2.0,-1.7,-2.0,-1.0,0.8,0.6,0.7,0.7,-0.5,-1.1,-1.2,-1.4,-1.1,-1.3,-1.0, -0.6,-0.8,-1.3,-1.1,-0.7,-0.9,-0.8,-0.8];
const R2_REF = [2.1,2.0,2.3,2.3,-0.6,1.0,1.1,1.2,1.3,1.0,1.2,1.3,1.0,1.4,1.0,1.2,1.2,1.0,1.0,1.1,1.7, 1.0,0.9,1.2,0.5,0.6,1.2,-1.5,-1.7,-2.0,-2.0,-1.8,-1.8,-1.3,0.8,0.8,0.7,0.9,-2.1,-2.4,-2.5,-2.6,-2.4,-2.3,-2.2, -0.8,-1.2,-1.4,-0.7,-0.6,-0.9,-0.5,-0.6];
const R2_REF_REP = [2.0,2.1,2.2,2.4,-0.9,0.9,1.0,1.3,1.1,0.8,1.0,1.1,0.9,1.3,1.1,1.0,1.3,1.1,0.9,1.0,1.5, 1.1,1.0,1.1,0.6,0.5,1.3,-1.4,-1.8,-2.3,-2.2,-1.9,-1.6,-0.8,0.9,0.9,0.8,0.8,-1.6,-2.6,-2.7,-2.5,-2.3,-2.5,-2.4, -0.9,-1.0,-1.6,-0.9,-0.8,-0.7,-0.6,-0.8];

// ---------- yellow tracks ----------
const Y1_SAMPLE = [0.2,0.3,0.5,0.3,-0.3,0.3,0.5,0.2,-0.3,0.4,0.7,0.5,0.5,0.7,0.3,0.2,0.3,0.5,-0.3,1.0,0.3, 0.4,0.7,0.7,0.0,0.2,0.3,0.4,0.7,2.4,2.2,1.9,0.5,0.6,0.8,-0.8,-0.8,-0.3,1.2,1.5,1.9,1.7,1.9,1.8,1.7, 1.2,0.3,-0.1,1.1,0.7,0.0,0.5,0.7];
const Y1_SAMPLE_REP = [0.0,0.5,0.2,0.6,-0.5,0.1,0.7,0.0,-0.4,0.6,0.5,0.8,0.3,0.5,0.1,0.4,0.1,0.7,-0.6,1.1,0.5, 0.2,0.6,0.8,-0.3,0.3,0.1,0.5,0.6,2.2,2.3,1.7,0.2,0.7,0.6,-0.7,-0.9,-0.4,1.0,1.6,2.0,1.6,2.0,1.7,1.8, 1.0,0.1,-0.3,1.2,0.5,-0.2,0.6,0.6];
const Y1_REF = [-0.1,0.3,0.5,-0.1,-0.4,0.0,0.0,-0.1,-0.6,-0.1,0.3,0.0,-0.1,0.2,-0.1,0.0,-0.1,0.2,-0.3,1.0,0.2, 0.2,0.3,0.8,-0.4,-0.1,0.0,0.5,0.7,2.6,2.4,2.0,0.5,0.8,0.7,-1.3,-1.5,-0.5,1.9,1.5,1.4,1.4,1.5,1.4,1.4, 1.1,0.0,-0.5,1.0,0.2,-0.5,0.3,0.0];
const Y1_REF_REP = [-0.3,0.1,0.4,-0.4,-0.7,-0.2,-0.3,-0.5,-1.0,-0.3,0.1,-0.2,-0.4,0.0,-0.3,-0.2,-0.4,0.0,-0.5,0.8,0.0, 0.0,0.4,0.7,-0.6,-0.2,0.1,0.3,0.9,2.5,2.3,1.8,0.3,0.5,0.9,-1.2,-1.6,-0.8,1.6,1.3,1.6,1.2,1.3,1.5,1.2, 1.0,-0.2,-0.7,0.9,0.0,-0.9,0.1,-0.1];
const Y2_SAMPLE = [0.4,0.4,0.3,0.2,-0.2,1.0,1.2,1.3,1.5,1.7,1.7,1.5,1.7,1.7,1.6,1.5,1.7,1.6,1.4,1.5,1.7, 1.3,1.4,1.5,1.2,1.2,1.5,0.7,0.4,0.0,-1.0,-0.2,0.0,0.4,2.8,2.9,2.9,2.8,1.2,0.4,0.2,0.4,0.4,0.2,0.7, 0.7,0.4,0.2,1.7,2.3,1.8,2.2,2.3];
const Y2_SAMPLE_REP = [0.5,0.3,0.4,0.1,-0.5,0.8,1.1,1.4,1.4,1.8,1.5,1.6,1.2,1.8,1.7,1.4,1.6,1.7,1.1,1.4,1.8, 1.2,1.5,1.4,1.1,1.3,1.4,0.9,0.5,-0.3,-1.4,-0.5,0.2,0.2,2.7,2.8,2.8,2.7,1.0,0.6,0.0,0.2,0.5,0.0,0.4, 0.6,0.5,0.3,1.5,2.2,1.9,2.1,2.4];
const Y2_REF = [0.3,0.1,0.0,-0.6,-1.2,1.0,1.2,1.3,1.5,1.6,1.6,1.5,1.6,1.6,1.5,1.5,1.6,1.5,1.3,1.5,1.6, 1.4,1.3,1.5,1.1,1.2,1.4,0.8,1.0,0.0,-2.0,0.7,0.4,0.6,3.1,3.1,3.1,3.0,0.4,-0.2,0.0,-0.6,-0.4,-0.6,-0.3, 0.0,-0.6,-0.8,1.5,2.2,1.8,2.1,2.3];
const Y2_REF_REP = [0.4,0.0,-0.2,-0.9,-1.4,0.9,1.3,1.2,1.4,1.5,1.0,1.4,0.9,1.5,1.4,1.3,1.5,1.4,1.0,1.3,1.5, 1.3,1.4,1.6,1.0,1.1,1.5,0.6,0.9,-0.4,-1.7,0.3,0.6,0.5,3.0,3.2,3.0,3.1,0.3,-0.5,-0.3,-0.9,-0.6,-0.8,-0.4, -0.1,-0.9,-0.5,1.0,2.3,1.7,2.0,2.2];

// ---------- reference levels ----------
const MULTI_REF_LEVELS = [0.3, -0.3, -1.8];
const SIGNAL_REF_LEVELS = [0.35, -0.35];

// ---------- styling / layout ----------
const FONT = '10px "DejaVu Sans Mono", monospace';
const RED = "#ff0000";
const ROSY = "#a06868";
const GREEN = "#0c8c0c";
const BLUE = "#1034e0";
const DARKRED = "#cc0000";
const YELLOW = "#c8c800";
const LEFT = 20.7;
const RIGHT = 21.7;
const LABEL_Y = [76, 85, 97.5, 107, 118];
const TRACK_CENTERS = [481.2, 559.2, 633.8, 711.7, 891.8, 968.8, 1148.8, 1225.8, 1406.8, 1483.7];

const MULTI1_LINES = [M1_TAN, M1_BROWN, M1_OLIVE, M1_YELLOWGREEN, M1_SALMON, M1_GREEN, M1_TEAL, M1_ORANGERED, M1_MAGENTA, M1_RED, M1_PURPLE, M1_LAVENDER, M1_DARKRED, M1_LIGHTBLUE, M1_ORANGE, M1_BLACK];
const MULTI1_COLORS = ["#d2a060", "#8b5a2b", "#a0a000", "#9acd32", "#f08878", "#40d840", "#20a0a0", "#ff4500", "#d040a0", "#e83030", "#8b1c8b", "#a8a8e8", "#a01010", "#60b8f0", "#f07028", "#000000"];
const MULTI2_LINES = [M2_KHAKI, M2_DARKBROWN, M2_TAN, M2_TEAL, M2_ORANGERED, M2_GREEN, M2_PURPLE, M2_ORANGE, M2_RED, M2_MAGENTA, M2_DARKRED, M2_YELLOWGREEN, M2_OLIVE, M2_LIGHTBLUE, M2_LAVENDER, M2_BLACK];
const MULTI2_COLORS = ["#a08840", "#5a2a1a", "#d2a060", "#20a0a0", "#ff4500", "#40d840", "#8b1c8b", "#f07028", "#e83030", "#d040a0", "#a01010", "#9acd32", "#a0a000", "#60b8f0", "#a8a8e8", "#000000"];

function pairTrack(sample: number[], sampleRep: number[], ref: number[], refRep: number[], color: string) {
  return [
    { vals: refRep, color: "#000000", width: 1 },
    { vals: ref, color: "#000000", width: 2 },
    { vals: sampleRep, color, width: 1 },
    { vals: sample, color, width: 2 },
  ];
}

const TRACKS: any[] = [
  { refs: MULTI_REF_LEVELS, refColor: "#000000", refZ: 6, lines: MULTI1_LINES.map((v, i) => ({ vals: v, color: MULTI1_COLORS[i], width: 1 })) },
  { refs: MULTI_REF_LEVELS, refColor: "#000000", refZ: 6, lines: MULTI2_LINES.map((v, i) => ({ vals: v, color: MULTI2_COLORS[i], width: 1 })) },
  { refs: SIGNAL_REF_LEVELS, refColor: ROSY, refZ: 1, lines: pairTrack(G1_SAMPLE, G1_SAMPLE_REP, G1_REF, G1_REF_REP, GREEN) },
  { refs: SIGNAL_REF_LEVELS, refColor: ROSY, refZ: 1, lines: pairTrack(G2_SAMPLE, G2_SAMPLE_REP, G2_REF, G2_REF_REP, GREEN) },
  { refs: SIGNAL_REF_LEVELS, refColor: ROSY, refZ: 1, lines: pairTrack(B1_SAMPLE, B1_SAMPLE_REP, B1_REF, B1_REF_REP, BLUE) },
  { refs: SIGNAL_REF_LEVELS, refColor: ROSY, refZ: 1, lines: pairTrack(B2_SAMPLE, B2_SAMPLE_REP, B2_REF, B2_REF_REP, BLUE) },
  { refs: SIGNAL_REF_LEVELS, refColor: ROSY, refZ: 1, lines: pairTrack(R1_SAMPLE, R1_SAMPLE_REP, R1_REF, R1_REF_REP, DARKRED) },
  { refs: SIGNAL_REF_LEVELS, refColor: ROSY, refZ: 1, lines: pairTrack(R2_SAMPLE, R2_SAMPLE_REP, R2_REF, R2_REF_REP, DARKRED) },
  { refs: SIGNAL_REF_LEVELS, refColor: ROSY, refZ: 1, lines: pairTrack(Y1_SAMPLE, Y1_SAMPLE_REP, Y1_REF, Y1_REF_REP, YELLOW) },
  { refs: SIGNAL_REF_LEVELS, refColor: ROSY, refZ: 1, lines: pairTrack(Y2_SAMPLE, Y2_SAMPLE_REP, Y2_REF, Y2_REF_REP, YELLOW) },
];

function splitSegments(vals: number[]) {
  const out: any[] = [];
  let k = 0;
  [POS_A, POS_B, POS_C].forEach((pos) => {
    out.push(pos.map((p, j) => [p, vals[k + j]]));
    k += pos.length;
  });
  return out;
}

const clampX = (x: number, a: number, b: number) => Math.max(a, Math.min(b, x));
const px = (api: any, bp: number) => api.coord([bp, 0])[0];
const txt = (x: number, y: number, text: string, align: string, extra?: any) => ({
  type: "text", x, y, silent: true,
  style: { text, fill: "#000", font: FONT, align, verticalAlign: "middle", ...(extra || {}) },
});

function renderGene(params: any, api: any) {
  const i = params.dataIndex;
  const x0 = px(api, X_MIN), x1 = px(api, X_MAX);
  const xs = px(api, GENE_START[i]), xe = px(api, GENE_END[i]);
  const fwd = GENE_STRAND[i] > 0;
  const cy = fwd ? 61 : 83;
  const bh = 6.5, hh = 10.5, hl = 12;
  let pts: number[][];
  const headHidden = fwd ? xe - hl > x1 : xs + hl < x0;
  if (headHidden) {
    pts = [[xs, cy - bh], [xe, cy - bh], [xe, cy + bh], [xs, cy + bh]];
  } else if (fwd) {
    const h = Math.max(xe - hl, xs);
    pts = [[xs, cy - bh], [h, cy - bh], [h, cy - hh], [xe, cy], [h, cy + hh], [h, cy + bh], [xs, cy + bh]];
  } else {
    const h = Math.min(xs + hl, xe);
    pts = [[xs, cy], [h, cy - hh], [h, cy - bh], [xe, cy - bh], [xe, cy + bh], [h, cy + bh], [h, cy + hh]];
  }
  pts = pts.map((p) => [clampX(p[0], x0, x1), p[1]]);
  const children: any[] = [
    { type: "polygon", shape: { points: pts }, style: { fill: GENE_FILLED[i] ? "#000" : "#fff", stroke: "#000", lineWidth: 1 } },
  ];
  const bx = fwd ? xs : xe;
  if (bx >= x0 - 0.5 && bx <= x1 + 0.5) {
    children.push({ type: "line", shape: { x1: bx, y1: cy - hh, x2: bx, y2: cy + hh }, style: { stroke: "#000", lineWidth: 1 } });
  }
  const lvl = GENE_LABEL_LEVEL[i];
  if (lvl >= 0) {
    children.push(txt((clampX(xs, x0, x1) + clampX(xe, x0, x1)) / 2, LABEL_Y[lvl], GENE_NAMES[i], "center"));
  }
  return { type: "group", children };
}

function renderFeature(params: any, api: any) {
  const i = params.dataIndex;
  const x0 = px(api, X_MIN), x1 = px(api, X_MAX);
  const xs = clampX(px(api, FEAT_START[i]), x0, x1);
  const xe = clampX(px(api, FEAT_END[i]), x0, x1);
  const row = FEAT_ROW[i];
  const top = row === 0 ? 207.5 : 258.5;
  const h = 10;
  const fill = FEAT_FILL[i];
  const children: any[] = [
    {
      type: "rect", shape: { x: xs, y: top, width: xe - xs, height: h },
      style: fill ? { fill, stroke: null } : { fill: "none", stroke: row === 0 ? "#0000ff" : RED, lineWidth: 1 },
      z2: fill ? 2 : 1,
    },
  ];
  if (FEAT_LABEL[i]) children.push(txt((xs + xe) / 2 - 1.5, top + h + 7, FEAT_LABEL[i], "center"));
  return { type: "group", children };
}

const MARK_STYLE: any = {
  0: { y0: 27.5, y1: 52.5, w: 4, stroke: "#d02818", fill: "none" },
  1: { y0: 28, y1: 38, w: 2, stroke: null, fill: "#f8d8c8" },
  2: { y0: 27.5, y1: 49.5, w: 3, stroke: "#f06050", fill: "none" },
  3: { y0: 29.5, y1: 38, w: 3, stroke: "#f0d8d0", fill: "none" },
  4: { y0: 38, y1: 50, w: 2, stroke: null, fill: "#f06040" },
};

function renderMark(params: any, api: any) {
  const i = params.dataIndex;
  const x = px(api, MARK_POS[i]);
  const s = MARK_STYLE[MARK_KIND[i]];
  return {
    type: "rect", shape: { x: x - s.w / 2, y: s.y0, width: s.w, height: s.y1 - s.y0 },
    style: { fill: s.fill, stroke: s.stroke, lineWidth: 1 },
  };
}

function renderPromoter(params: any, api: any) {
  const i = params.dataIndex;
  const x = Math.round(px(api, PROM_POS[i])) + 0.5;
  const base = 366.5;
  const fwd = PROM_STRAND[i] > 0;
  if (fwd) {
    return {
      type: "group", children: [
        { type: "line", shape: { x1: x, y1: 343, x2: x, y2: base }, style: { stroke: RED, lineWidth: 1 } },
        { type: "polygon", shape: { points: [[x - 0.5, 343], [x + 11, 343], [x - 0.5, 352]] }, style: { fill: RED } },
        txt(x + 9, 350.5, PROM_NAMES[i], "left"),
      ],
    };
  }
  return {
    type: "group", children: [
      { type: "line", shape: { x1: x, y1: base, x2: x, y2: 390 }, style: { stroke: RED, lineWidth: 1 } },
      { type: "polygon", shape: { points: [[x + 0.5, 390], [x - 11, 390], [x + 0.5, 381]] }, style: { fill: RED } },
      txt(x - 10.5, 383.5, PROM_NAMES[i], "right"),
    ],
  };
}

function renderTerminator(params: any, api: any) {
  const i = params.dataIndex;
  const xs = px(api, TERM_START[i]), xe = px(api, TERM_END[i]);
  const fwd = TERM_STRAND[i] > 0;
  if (fwd) {
    return {
      type: "group", children: [
        { type: "rect", shape: { x: xs, y: 353.5, width: xe - xs, height: 8 }, style: { fill: RED } },
        { type: "rect", shape: { x: xe - 2.5, y: 361.5, width: 2, height: 4.5 }, style: { fill: "#fff", stroke: RED, lineWidth: 1 } },
        txt(xs - 1, 358, TERM_NAMES[i], "right"),
      ],
    };
  }
  return {
    type: "group", children: [
      { type: "rect", shape: { x: xs, y: 371, width: xe - xs, height: 9 }, style: { fill: RED } },
      { type: "rect", shape: { x: xs + 0.5, y: 366.5, width: 2, height: 4.5 }, style: { fill: "#fff", stroke: RED, lineWidth: 1 } },
      txt(xe - 2, 376, TERM_NAMES[i], "left"),
    ],
  };
}

const TX_Y = [336.5, 397.5, 401.5];
function renderTranscript(params: any, api: any) {
  const i = params.dataIndex;
  const y = TX_Y[TX_ROW[i]];
  return {
    type: "line", shape: { x1: px(api, TX_START[i]), y1: y, x2: px(api, TX_END[i]), y2: y },
    style: { stroke: RED, lineWidth: 1 },
  };
}

function makeBarRenderer(starts: number[], ends: number[], strands: number[], plusTop: number, plusH: number, minusTop: number, minusH: number, color: string) {
  return (params: any, api: any) => {
    const i = params.dataIndex;
    const x0 = px(api, X_MIN), x1 = px(api, X_MAX);
    const xs = clampX(px(api, starts[i]), x0, x1), xe = clampX(px(api, ends[i]), x0, x1);
    const plus = strands[i] > 0;
    const top = plus ? plusTop : minusTop;
    const h = plus ? plusH : minusH;
    return {
      type: "group", children: [
        { type: "rect", shape: { x: xs, y: top, width: xe - xs, height: h }, style: { fill: color } },
        txt((xs + xe) / 2, plus ? top - 7 : top + h + 5, plus ? "+" : "-", "center", { font: 'bold 10px "DejaVu Sans Mono", monospace' }),
      ],
    };
  };
}

function buildOption() {
  const grids: any[] = [
    { left: LEFT, right: RIGHT, top: 0, height: 1640 },
    { left: LEFT, right: RIGHT, top: 0, height: 38 },
    ...TRACK_CENTERS.map((c) => ({ left: LEFT, right: RIGHT, top: c - 40, height: 80 })),
  ].map((g) => ({ ...g, containLabel: false, outerBoundsMode: "none", show: false }));

  const hiddenX = (gi: number) => ({ gridIndex: gi, type: "value", min: X_MIN, max: X_MAX, show: false });
  const xAxes: any[] = [
    hiddenX(0),
    {
      gridIndex: 1, type: "value", min: X_MIN, max: X_MAX, interval: TICK_INTERVAL, position: "bottom",
      axisLine: { show: true, lineStyle: { color: "#000", width: 1 } },
      axisTick: { show: true, length: 3, lineStyle: { color: "#000", width: 1 } },
      axisLabel: { show: false }, splitLine: { show: false },
    },
    {
      gridIndex: 1, type: "value", min: X_MIN, max: X_MAX, interval: TICK_INTERVAL, position: "bottom",
      axisLine: { show: false },
      axisTick: { show: true, inside: true, length: 3, lineStyle: { color: "#000", width: 1 } },
      axisLabel: { show: false }, splitLine: { show: false },
    },
    ...TRACK_CENTERS.map((_, t) => hiddenX(2 + t)),
  ];
  const yAxes: any[] = [
    { gridIndex: 0, type: "value", min: 0, max: 1640, inverse: true, show: false },
    { gridIndex: 1, type: "value", min: 0, max: 1, show: false },
    ...TRACK_CENTERS.map((_, t) => ({ gridIndex: 2 + t, type: "value", min: -4, max: 4, show: false })),
  ];

  const custom = (name: string, starts: number[], ends: number[], renderItem: any, z = 4) => ({
    type: "custom", name, xAxisIndex: 0, yAxisIndex: 0, silent: true, z,
    data: starts.map((s, i) => [s, ends[i]]),
    encode: { x: [0, 1] },
    renderItem,
  });

  const series: any[] = [
    custom("marks", MARK_POS, MARK_POS, renderMark, 6),
    custom("genes", GENE_START, GENE_END, renderGene),
    custom("features", FEAT_START, FEAT_END, renderFeature),
    custom("transcripts", TX_START, TX_END, renderTranscript),
    custom("promoters", PROM_POS, PROM_POS, renderPromoter),
    custom("terminators", TERM_START, TERM_END, renderTerminator),
    custom("greenBars", GREEN_BAR_START, GREEN_BAR_END, makeBarRenderer(GREEN_BAR_START, GREEN_BAR_END, GREEN_BAR_STRAND, 773, 10.5, 824.5, 11.5, "#009000")),
    custom("blueBars", BLUE_BAR_START, BLUE_BAR_END, makeBarRenderer(BLUE_BAR_START, BLUE_BAR_END, BLUE_BAR_STRAND, 1030, 10, 1080, 10, "#0024c8")),
    custom("redBars", RED_BAR_START, RED_BAR_END, makeBarRenderer(RED_BAR_START, RED_BAR_END, RED_BAR_STRAND, 1288.3, 10.4, 1340, 10, "#c00000")),
    {
      type: "line", xAxisIndex: 0, yAxisIndex: 0, silent: true, symbol: "none", z: 3,
      data: [[X_MIN, 366.5], [X_MAX, 366.5]], lineStyle: { color: "#000", width: 1 },
    },
  ];

  TRACKS.forEach((tr, t) => {
    const xi = 3 + t, yi = 2 + t;
    tr.refs.forEach((v: number) => {
      SEG_BOUNDS.forEach(([a, b]) => {
        series.push({
          type: "line", xAxisIndex: xi, yAxisIndex: yi, silent: true, symbol: "none", z: tr.refZ,
          data: [[a, v], [b, v]], lineStyle: { color: tr.refColor, width: 1 },
        });
      });
    });
    tr.lines.forEach((ln: any) => {
      splitSegments(ln.vals).forEach((d: any) => {
        series.push({
          type: "line", xAxisIndex: xi, yAxisIndex: yi, silent: true, symbol: "none", showSymbol: false, z: 3,
          data: d, lineStyle: { color: ln.color, width: ln.width },
        });
      });
    });
  });

  return {
    animation: false,
    backgroundColor: "#ffffff",
    grid: grids,
    xAxis: xAxes,
    yAxis: yAxes,
    series,
    graphic: [
      { type: "text", x: 19.5, y: 20, style: { text: TICK_LABELS[0], fill: "#000", font: FONT, align: "left", verticalAlign: "middle" } },
      { type: "text", x: 1000, y: 20, style: { text: TICK_LABELS[1], fill: "#000", font: FONT, align: "right", verticalAlign: "middle" } },
    ],
  };
}

export default function App() {
  const ref = useRef<HTMLDivElement>(null);
  useEffect(() => {
    if (!ref.current) return;
    const chart = echarts.init(ref.current, undefined, { renderer: "svg" });
    chart.setOption(buildOption() as any);
    return () => chart.dispose();
  }, []);
  return (
    <div
      ref={ref}
      style={{ position: "absolute", left: 0, top: 0, width: 1024, height: 1640, background: "#fff" }}
    />
  );
}
